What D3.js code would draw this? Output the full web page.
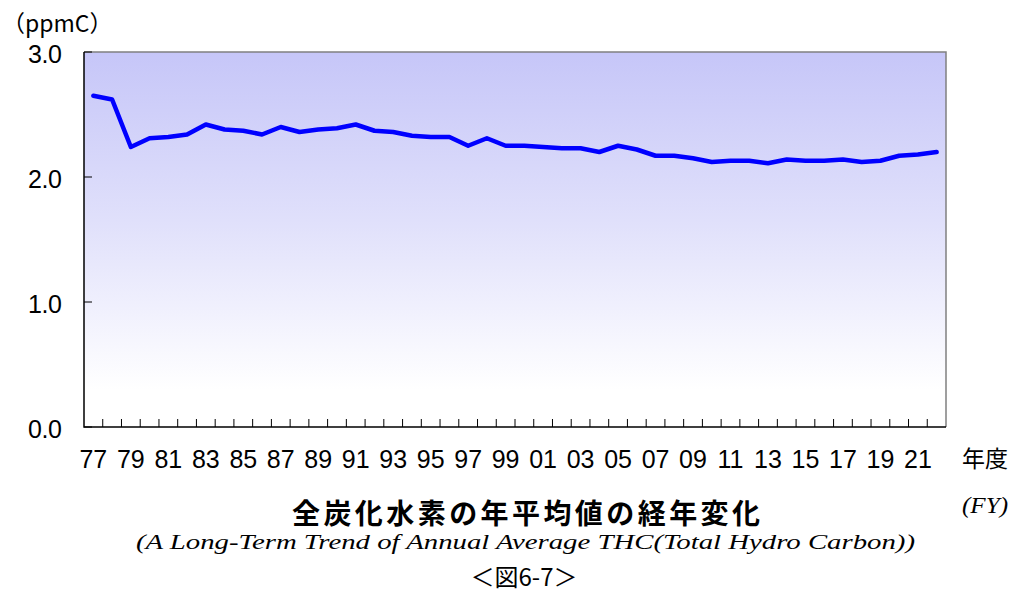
<!DOCTYPE html>
<html>
<head>
<meta charset="utf-8">
<script src="https://cdn.jsdelivr.net/npm/d3@7"></script>
<style>
  html, body { margin: 0; padding: 0; background: #fff; }
  svg { display: block; }
  .num { font-family: "Liberation Sans Narrow", "Liberation Sans", Arial, sans-serif; }
  .jp { font-family: "Noto Sans CJK JP", sans-serif; }
  .serif { font-family: "Liberation Serif", Tinos, "Times New Roman", serif; font-style: italic; }
</style>
</head>
<body>
<svg id="chart" width="1023" height="596"></svg>
<script>
// Fiscal years 1977–2022 (two-digit labels)
const years = ["77","78","79","80","81","82","83","84","85","86","87","88","89","90","91","92","93","94","95","96","97","98","99","00","01","02","03","04","05","06","07","08","09","10","11","12","13","14","15","16","17","18","19","20","21","22"];

// Annual average total hydrocarbon concentration (ppmC)
const thc = [2.65,2.62,2.24,2.31,2.32,2.34,2.42,2.38,2.37,2.34,2.40,2.36,2.38,2.39,2.42,2.37,2.36,2.33,2.32,2.32,2.25,2.31,2.25,2.25,2.24,2.23,2.23,2.20,2.25,2.22,2.17,2.17,2.15,2.12,2.13,2.13,2.11,2.14,2.13,2.13,2.14,2.12,2.13,2.17,2.18,2.20];

// Y axis ticks
const yTicks = [0, 1, 2, 3];

const svg = d3.select("#chart");
const plot = { left: 84, right: 946, top: 52, bottom: 427 };

const x = d3.scaleBand().domain(years).range([plot.left, plot.right]).padding(0);
const y = d3.scaleLinear().domain([0, 3]).range([plot.bottom, plot.top]);

// Background gradient of the plot area
const defs = svg.append("defs");
const grad = defs.append("linearGradient")
  .attr("id", "bg").attr("x1", 0).attr("y1", 0).attr("x2", 0).attr("y2", 1);
grad.append("stop").attr("offset", "0%").attr("stop-color", "#c6c6f8");
grad.append("stop").attr("offset", "45%").attr("stop-color", "#e0e0fb");
grad.append("stop").attr("offset", "90%").attr("stop-color", "#ffffff");
grad.append("stop").attr("offset", "100%").attr("stop-color", "#ffffff");

svg.append("rect")
  .attr("x", plot.left).attr("y", plot.top)
  .attr("width", plot.right - plot.left).attr("height", plot.bottom - plot.top)
  .attr("fill", "url(#bg)");

// Top and right frame
svg.append("path")
  .attr("d", `M${plot.left},${plot.top}H${plot.right}V${plot.bottom}`)
  .attr("fill", "none").attr("stroke", "#808080").attr("stroke-width", 1.5);

// X axis: inward ticks at the category boundaries
const boundaries = years.slice(1).map(d => x(d));
svg.append("g").selectAll("line").data(boundaries).join("line")
  .attr("x1", d => d).attr("x2", d => d)
  .attr("y1", plot.bottom).attr("y2", plot.bottom - 8)
  .attr("stroke", "#000").attr("stroke-width", 1);

svg.append("g").selectAll("text").data(years.filter((d, i) => i % 2 === 0)).join("text")
  .attr("class", "num")
  .attr("x", d => x(d) + x.bandwidth() / 2)
  .attr("y", 468)
  .attr("text-anchor", "middle")
  .attr("font-size", 25)
  .text(d => d);

// Y axis: inward ticks
svg.append("g").selectAll("line").data(yTicks).join("line")
  .attr("x1", plot.left).attr("x2", plot.left + 8)
  .attr("y1", d => y(d)).attr("y2", d => y(d))
  .attr("stroke", "#000").attr("stroke-width", 1);

svg.append("g").selectAll("text").data(yTicks).join("text")
  .attr("class", "num")
  .attr("x", 62)
  .attr("y", d => y(d) + 11)
  .attr("text-anchor", "end")
  .attr("font-size", 25)
  .attr("textLength", 34).attr("lengthAdjust", "spacing")
  .text(d => d3.format(".1f")(d));

// Axis lines
svg.append("path")
  .attr("d", `M${plot.left},${plot.top}V${plot.bottom}H${plot.right}`)
  .attr("fill", "none").attr("stroke", "#000").attr("stroke-width", 1.5);

// Data line
const line = d3.line()
  .x((d, i) => x(years[i]) + x.bandwidth() / 2)
  .y(d => y(d));

svg.append("path")
  .datum(thc)
  .attr("d", line)
  .attr("fill", "none")
  .attr("stroke", "#0000ff")
  .attr("stroke-width", 4.5)
  .attr("stroke-linejoin", "round")
  .attr("stroke-linecap", "round");

// Unit label
svg.append("text").attr("class", "jp")
  .attr("x", 2).attr("y", 32).attr("font-size", 23)
  .text("（ppmC）");

// Axis title
svg.append("text").attr("class", "jp")
  .attr("x", 962).attr("y", 467).attr("font-size", 23)
  .text("年度");
svg.append("text").attr("class", "serif")
  .attr("x", 962).attr("y", 513).attr("font-size", 24)
  .attr("textLength", 46).attr("lengthAdjust", "spacingAndGlyphs")
  .text("(FY)");

// Chart titles
svg.append("text").attr("class", "jp")
  .attr("x", 292).attr("y", 524)
  .attr("font-size", 28).attr("font-weight", "bold")
  .attr("textLength", 468).attr("lengthAdjust", "spacing")
  .text("全炭化水素の年平均値の経年変化");

svg.append("text").attr("class", "serif")
  .attr("x", 136).attr("y", 549)
  .attr("font-size", 22)
  .attr("textLength", 779).attr("lengthAdjust", "spacingAndGlyphs")
  .text("(A Long-Term Trend of Annual Average THC(Total Hydro Carbon))");

svg.append("text").attr("class", "jp")
  .attr("x", 524).attr("y", 586)
  .attr("text-anchor", "middle")
  .attr("font-size", 24)
  .text("＜図6-7＞");
</script>
</body>
</html>
